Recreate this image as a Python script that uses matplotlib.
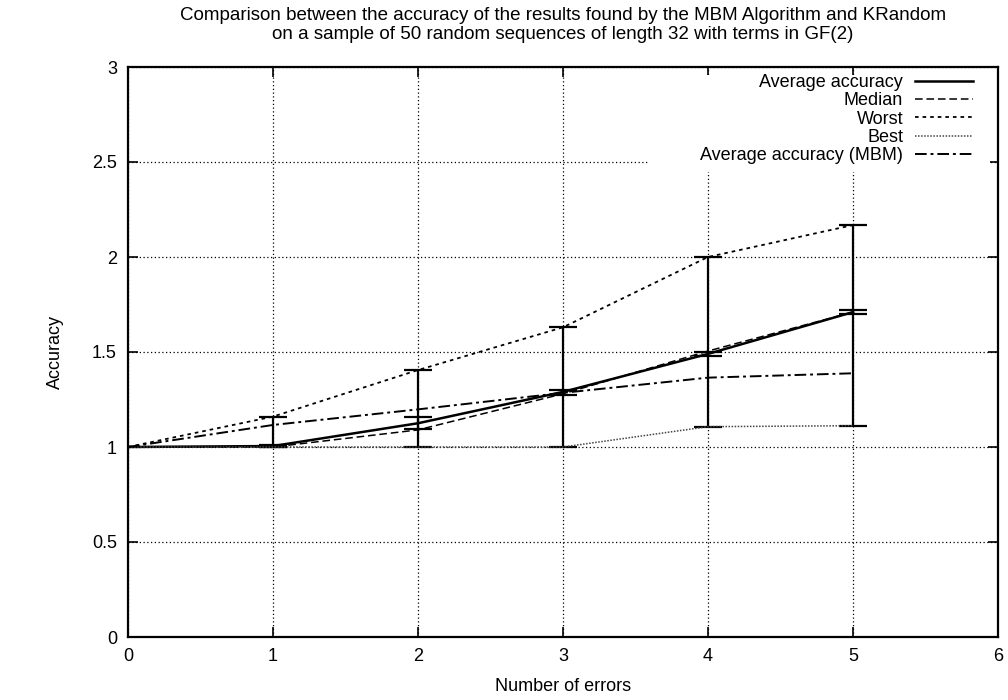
import matplotlib
matplotlib.use("Agg")
import matplotlib.pyplot as plt
from matplotlib.patches import Rectangle
import numpy as np

plt.rcParams["font.family"] = ["Liberation Sans", "DejaVu Sans"]

# values
errors = [0, 1, 2, 3, 4, 5]
avg_acc = [1.0, 1.005, 1.125, 1.29, 1.49, 1.71]
avg_lo = [1.0, 1.0, 1.093, 1.275, 1.48, 1.70]
avg_hi = [1.0, 1.01, 1.156, 1.30, 1.50, 1.72]
median = [1.0, 1.0, 1.09, 1.28, 1.505, 1.71]
worst = [1.0, 1.16, 1.405, 1.63, 2.0, 2.168]
best = [1.0, 1.0, 1.0, 1.0, 1.107, 1.112]
avg_mbm = [1.0, 1.116, 1.198, 1.285, 1.365, 1.388]

title = ("Comparison between the accuracy of the results found by the MBM Algorithm and KRandom\n"
         "on a sample of 50 random sequences of length 32 with terms in GF(2)")

fig = plt.figure(figsize=(10.08, 7.0), dpi=100)
ax = fig.add_axes([128 / 1008, 1 - 637 / 700, 870 / 1008, 570 / 700])

x = np.array(errors)
avg = np.array(avg_acc)

# range bars best..worst
ax.errorbar(x[1:], avg[1:], yerr=[avg[1:] - np.array(best[1:]), np.array(worst[1:]) - avg[1:]],
            fmt="none", ecolor="black", elinewidth=1.6, capsize=10, capthick=1.6, zorder=3)
# small bars round the average
ax.errorbar(x[1:], avg[1:], yerr=[avg[1:] - np.array(avg_lo[1:]), np.array(avg_hi[1:]) - avg[1:]],
            fmt="none", ecolor="black", elinewidth=1.6, capsize=10, capthick=1.6, zorder=3)

ax.plot(x, avg, color="black", lw=1.8, label="Average accuracy", zorder=4)
ax.plot(x, median, color="black", lw=1.1, ls=(0, (5, 2.5)), label="Median", zorder=4)
ax.plot(x, worst, color="black", lw=1.3, ls=(0, (2, 2.2)), label="Worst", zorder=4)
ax.plot(x, best, color="#444444", lw=1.1, ls=(0, (1, 1)), label="Best", zorder=4)
ax.plot(x, avg_mbm, color="black", lw=1.4, ls=(0, (6, 2, 1.5, 2)), label="Average accuracy (MBM)", zorder=4)

ax.set_xlim(0, 6)
ax.set_ylim(0, 3)
ax.set_xticks(range(0, 7))
ax.set_yticks([0, 0.5, 1, 1.5, 2, 2.5, 3])
ax.set_yticklabels(["0", "0.5", "1", "1.5", "2", "2.5", "3"])
ax.grid(True, color="black", ls=(0, (1, 2)), lw=0.9)
ax.set_axisbelow(True)
ax.tick_params(direction="in", length=7, width=1.2, top=True, right=True,
               labelsize=13, pad=8)
for sp in ax.spines.values():
    sp.set_linewidth(1.6)

# key area is blanked like gnuplot does
ax.add_patch(Rectangle((520 / 870, 465 / 570), 342 / 870, 97 / 570, transform=ax.transAxes,
                       facecolor="white", edgecolor="none", zorder=1))

ax.set_xlabel("Number of errors", fontsize=13, labelpad=9)
ax.set_ylabel("Accuracy", fontsize=13, labelpad=20)
fig.text(563 / 1008, 1 - 7 / 700, title, fontsize=13.5, ha="center", va="top",
         multialignment="center", linespacing=1.15)

leg = ax.legend(loc="upper right", bbox_to_anchor=(0.977, 0.997), markerfirst=False,
                fontsize=13, handlelength=3.2, frameon=False,
                borderaxespad=0, labelspacing=0.07, handletextpad=0.65, borderpad=0.3)
leg.set_zorder(5)

fig.savefig("out.png", dpi=100)
